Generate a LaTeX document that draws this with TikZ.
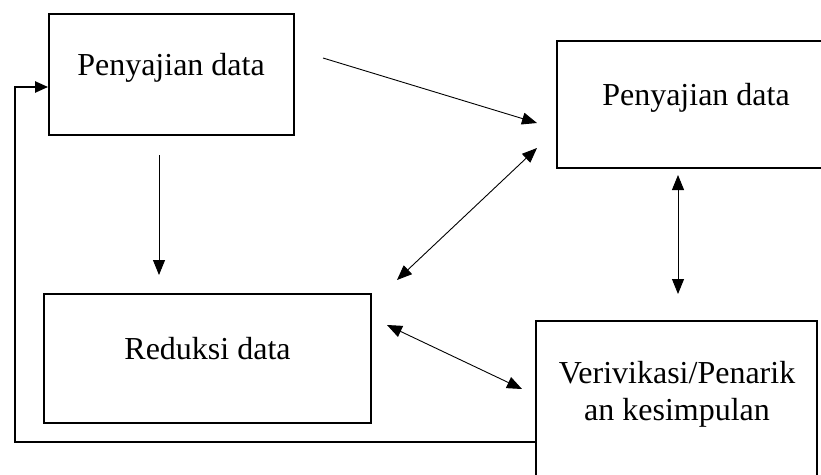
\documentclass[tikz,border=0pt]{standalone}
\usepackage{fontspec}
\setmainfont{Liberation Serif}
\usetikzlibrary{arrows.meta}
\begin{document}
\begin{tikzpicture}[x=1pt,y=-1pt,
  box/.style={draw,line width=1.8pt,inner sep=0pt,fill=white},
  lbl/.style={font=\fontsize{32}{37}\selectfont,anchor=base,inner sep=0pt,align=center},
  arr/.style={line width=0.9pt,-{Triangle[length=15pt,width=12pt]}},
  darr/.style={line width=0.9pt,{Triangle[length=15pt,width=12pt]}-{Triangle[length=15pt,width=12pt]}},
  fb/.style={line width=2.2pt,-{Triangle[length=13pt,width=11pt]}}]
\path[use as bounding box] (0,0) rectangle (821,474);
\clip (0,0) rectangle (821,474);
\fill[white] (0,0) rectangle (821,474);

% boxes
\node[box, minimum width=245pt, minimum height=121pt] (tl) at (171.5,74.5) {};
\node[box, minimum width=303pt, minimum height=127pt] (tr) at (708.5,104.5) {};
\node[box, minimum width=327pt, minimum height=129pt] (bl) at (207.5,358.5) {};
\node[box, minimum width=281pt, minimum height=199pt] (br) at (676.5,420.5) {};

% texts
\node[lbl] (tltext) at (171,75) {Penyajian data};
\node[lbl] (trtext) at (696,105) {Penyajian data};
\node[lbl] (bltext) at (207.5,359) {Reduksi data};
\node[lbl] (brtext) at (677,420) {Verivikasi/Penarik\\an kesimpulan};

% connector end points
\coordinate (a1s) at (323,58);
\coordinate (a1e) at (537,123);
\coordinate (a2s) at (397,280);
\coordinate (a2e) at (537,148);
\coordinate (a3s) at (159,155);
\coordinate (a3e) at (159,275);
\coordinate (a4s) at (387,325);
\coordinate (a4e) at (522,389);
\coordinate (a5s) at (678,175);
\coordinate (a5e) at (678,294);
\coordinate (fbs) at (536,442);
\coordinate (fbc1) at (15,442);
\coordinate (fbc2) at (15,87);

% connectors
\draw[arr] (a1s) -- (a1e);
\draw[darr] (a2s) -- (a2e);
\draw[arr] (a3s) -- (a3e);
\draw[darr] (a4s) -- (a4e);
\draw[darr] (a5s) -- (a5e);
\draw[fb] (br.west |- fbs) -- (fbc1) -- (fbc2) -- (tl.west |- fbc2);
\end{tikzpicture}
\end{document}
